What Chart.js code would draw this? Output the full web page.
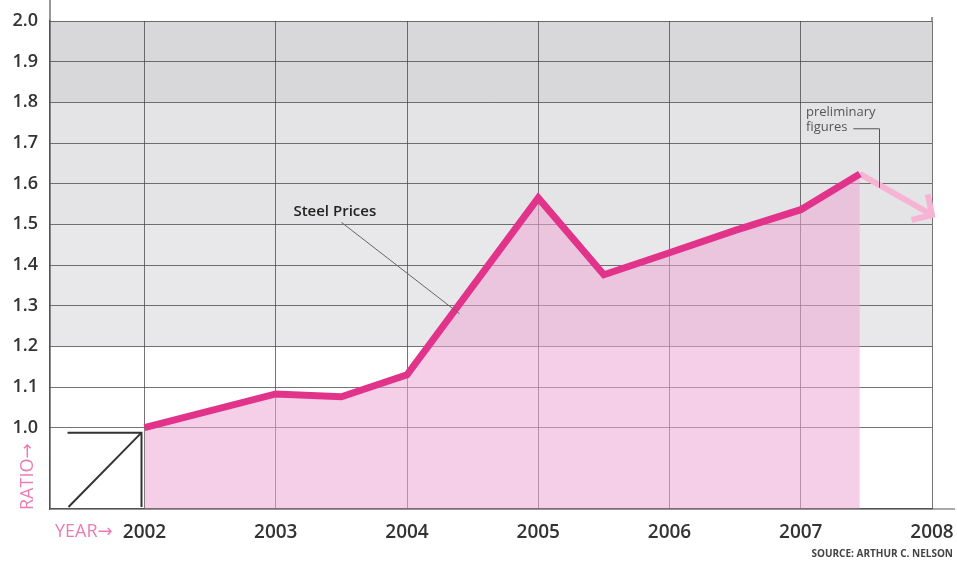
<!DOCTYPE html>
<html>
<head>
<meta charset="utf-8">
<script src="https://cdn.jsdelivr.net/npm/chart.js@4/dist/chart.umd.min.js"></script>
<style>
  html, body { margin: 0; padding: 0; background: #fff; }
  #chart { display: block; }
</style>
</head>
<body>
<canvas id="chart" width="957" height="563"></canvas>
<script>
// steel price ratio
const years = [2002, 2003, 2003.5, 2004, 2005, 2005.5, 2006, 2006.5, 2007, 2007.45];
const ratio = [1.0, 1.083, 1.076, 1.13, 1.565, 1.376, 1.43, 1.485, 1.536, 1.624];
const prelimYears = [2007.45, 2008];
const prelimRatio = [1.624, 1.523];
const xTicks = [2002, 2003, 2004, 2005, 2006, 2007, 2008];
const yTicks = [1.0, 1.1, 1.2, 1.3, 1.4, 1.5, 1.6, 1.7, 1.8, 1.9, 2.0];
const bandLimits = [[1.8, 2.0], [1.5, 1.8], [1.2, 1.5]];
const bandColors = ["#d8d8da", "#e4e4e6", "#e8e8ea"];

const PINK = "#e2338a";
const LIGHT_PINK = "#f6b4d4";
const LABEL_PINK = "#ea7db5";
const DARK = "#333";
const FONT = "'Open Sans', 'DejaVu Sans', sans-serif";

const toPoints = (xs, ys) => xs.map((x, i) => ({ x: x, y: ys[i] }));

const decor = {
    id: "decor",
    beforeDraw(chart) {
        const { ctx, chartArea, scales } = chart;
        const y = scales.y;
        ctx.save();
        bandLimits.forEach((b, i) => {
            const top = y.getPixelForValue(b[1]);
            const bot = y.getPixelForValue(b[0]);
            ctx.fillStyle = bandColors[i];
            ctx.fillRect(chartArea.left, top, chartArea.right - chartArea.left, bot - top);
        });
        ctx.restore();
    },
    afterDraw(chart) {
        const { ctx, chartArea, scales } = chart;
        const x = scales.x, y = scales.y;
        ctx.save();

        // axis lines running past the grid
        ctx.strokeStyle = "#555";
        ctx.lineWidth = 1.2;
        ctx.beginPath();
        ctx.moveTo(chartArea.left, 0);
        ctx.lineTo(chartArea.left, chartArea.bottom);
        ctx.lineTo(chartArea.right + 23, chartArea.bottom);
        ctx.moveTo(chartArea.right, chartArea.top - 4);
        ctx.lineTo(chartArea.right, chartArea.top);
        ctx.stroke();

        // arrow head on the preliminary segment
        const meta = chart.getDatasetMeta(1);
        const p0 = meta.data[0], p1 = meta.data[1];
        const ang = Math.atan2(p1.y - p0.y, p1.x - p0.x);
        ctx.strokeStyle = LIGHT_PINK;
        ctx.lineWidth = 6;
        ctx.lineCap = "butt";
        ctx.beginPath();
        ctx.moveTo(p1.x + 21 * Math.cos(ang + Math.PI - 0.75), p1.y + 21 * Math.sin(ang + Math.PI - 0.75));
        ctx.lineTo(p1.x, p1.y);
        ctx.lineTo(p1.x + 21 * Math.cos(ang + Math.PI + 0.85), p1.y + 21 * Math.sin(ang + Math.PI + 0.85));
        ctx.stroke();

        // little ratio box in the corner
        const bx = x.getPixelForValue(2002) - 3;
        const bt = y.getPixelForValue(1.0) + 5;
        const bb = chartArea.bottom - 2;
        ctx.strokeStyle = "#333";
        ctx.lineWidth = 2;
        ctx.beginPath();
        ctx.moveTo(bx - 74, bt);
        ctx.lineTo(bx, bt);
        ctx.lineTo(bx, bb);
        ctx.moveTo(bx - 73, bb);
        ctx.lineTo(bx, bt);
        ctx.stroke();

        // Steel Prices label and leader
        ctx.fillStyle = "#222";
        ctx.font = "600 15px " + FONT;
        ctx.textAlign = "center";
        ctx.textBaseline = "middle";
        ctx.fillText("Steel Prices", x.getPixelForValue(2003.45), y.getPixelForValue(1.53));
        ctx.strokeStyle = "#666";
        ctx.lineWidth = 1;
        ctx.beginPath();
        ctx.moveTo(x.getPixelForValue(2003.5), y.getPixelForValue(1.505));
        ctx.lineTo(x.getPixelForValue(2004.4), y.getPixelForValue(1.28));
        ctx.stroke();

        // preliminary figures note
        ctx.fillStyle = "#555";
        ctx.font = "13px " + FONT;
        ctx.textAlign = "left";
        const nx = x.getPixelForValue(2007.04);
        ctx.fillText("preliminary", nx, y.getPixelForValue(1.775));
        ctx.fillText("figures", nx, y.getPixelForValue(1.738));
        const lx = x.getPixelForValue(2007.6);
        ctx.strokeStyle = "#555";
        ctx.beginPath();
        ctx.moveTo(x.getPixelForValue(2007.4), y.getPixelForValue(1.735));
        ctx.lineTo(lx, y.getPixelForValue(1.735));
        ctx.lineTo(lx, y.getPixelForValue(1.59));
        ctx.stroke();

        // axis captions
        ctx.fillStyle = LABEL_PINK;
        ctx.font = "18px " + FONT;
        ctx.textAlign = "left";
        ctx.fillText("YEAR\u2192", 55, chartArea.bottom + 23);
        ctx.save();
        ctx.translate(28, chartArea.bottom + 1);
        ctx.rotate(-Math.PI / 2);
        ctx.fillText("RATIO\u2192", 0, 0);
        ctx.restore();

        ctx.fillStyle = "#444";
        ctx.font = "bold 10px " + FONT;
        ctx.textAlign = "right";
        ctx.fillText("SOURCE: ARTHUR C. NELSON", 953, 554);
        ctx.restore();
    }
};

new Chart(document.getElementById("chart"), {
    type: "line",
    data: {
        datasets: [{
            data: toPoints(years, ratio),
            borderColor: PINK,
            borderWidth: 7,
            backgroundColor: "rgba(236, 165, 212, 0.55)",
            fill: "start",
            pointRadius: 0,
            tension: 0,
            borderJoinStyle: "miter"
        }, {
            data: toPoints(prelimYears, prelimRatio),
            borderColor: LIGHT_PINK,
            borderWidth: 6,
            fill: false,
            pointRadius: 0,
            borderCapStyle: "butt"
        }]
    },
    options: {
        responsive: false,
        animation: false,
        layout: { padding: { top: 21, right: 25, left: 0, bottom: 0 } },
        plugins: { legend: { display: false }, tooltip: { enabled: false } },
        scales: {
            x: {
                type: "linear",
                min: 2001.28,
                max: 2008,
                afterBuildTicks: (scale) => { scale.ticks = xTicks.map(v => ({ value: v })); },
                afterFit: (scale) => {
                    scale.height = 54;
                    scale.paddingLeft = 0;
                    scale.paddingRight = 0;
                },
                grid: { color: "rgba(70,70,70,0.75)", lineWidth: 1, drawTicks: false },
                border: { display: true, color: "#555", width: 1.2 },
                ticks: {
                    padding: 12,
                    color: DARK,
                    font: { family: FONT, size: 19, weight: "600" },
                    maxRotation: 0,
                    callback: (v) => String(v)
                }
            },
            y: {
                min: 0.8,
                max: 2.0,
                afterBuildTicks: (scale) => { scale.ticks = yTicks.map(v => ({ value: v })); },
                afterFit: (scale) => {
                    scale.width = 50;
                    scale.paddingTop = 0;
                    scale.paddingBottom = 0;
                },
                grid: { color: "rgba(70,70,70,0.75)", lineWidth: 1, drawTicks: false },
                border: { display: true, color: "#555", width: 1.2 },
                ticks: {
                    padding: 12,
                    color: DARK,
                    font: { family: FONT, size: 18, weight: "600" },
                    callback: (v) => v.toFixed(1)
                }
            }
        }
    },
    plugins: [decor]
});
</script>
</body>
</html>
